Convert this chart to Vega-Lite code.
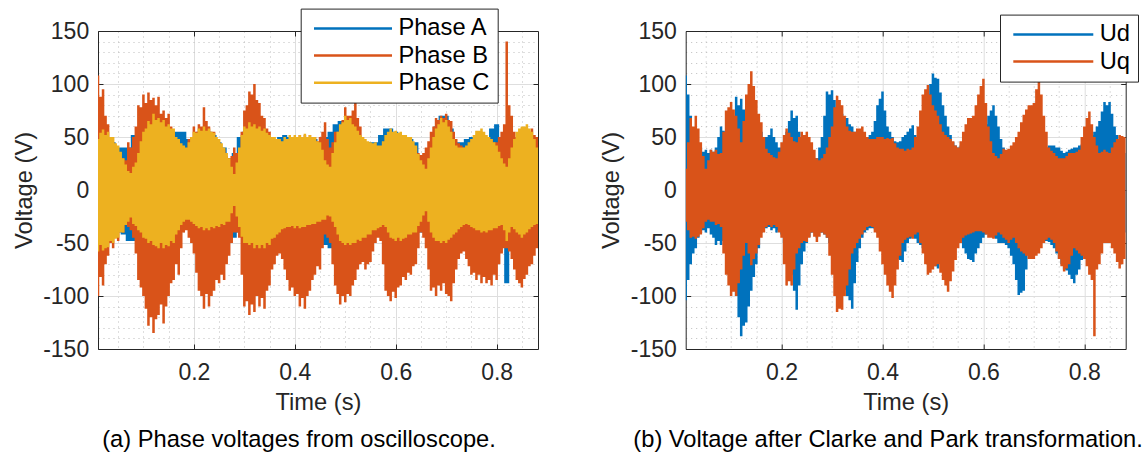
{
"$schema": "https://vega.github.io/schema/vega-lite/v6.json",
"background": "white",
"padding": {"left": 12, "top": 8, "right": 0, "bottom": 0},
"autosize": {"type": "pad"},
"config": {
  "view": {"stroke": null},
  "font": "Liberation Sans",
  "axis": {"domainColor": "#262626", "tickColor": "#262626", "labelColor": "#262626", "titleColor": "#262626", "labelFont": "Liberation Sans", "titleFont": "Liberation Sans", "labelFontSize": 23, "titleFontSize": 23.7, "titleFontWeight": "normal", "labelOverlap": false, "labelFlush": false, "labelBound": false, "tickWidth": 1, "domainWidth": 1},
  "title": {"font": "Liberation Sans", "fontSize": 23.7, "fontWeight": "normal", "color": "#000000"},
  "legend": {"labelFont": "Liberation Sans", "labelFontSize": 23.7, "labelColor": "#000000", "title": null, "symbolStrokeWidth": 2.5, "symbolSize": 324, "padding": 8, "rowPadding": 2.1, "fillColor": "#ffffff", "strokeColor": "#262626", "symbolOpacity": 1}
},
"resolve": {"scale": {"color": "independent"}, "legend": {"color": "independent"}},
"datasets": {
"phase": [
{"t":0.01,"s":"Phase A","lo":-50,"hi":45},{"t":0.02,"s":"Phase A","lo":-50,"hi":50},{"t":0.03,"s":"Phase A","lo":-50,"hi":50},{"t":0.04,"s":"Phase A","lo":-45,"hi":45},{"t":0.05,"s":"Phase A","lo":-40,"hi":40},{"t":0.06,"s":"Phase A","lo":-42,"hi":40},{"t":0.07,"s":"Phase A","lo":-48,"hi":40},{"t":0.08,"s":"Phase A","lo":-48,"hi":52},{"t":0.09,"s":"Phase A","lo":-40,"hi":58},{"t":0.10,"s":"Phase A","lo":-45,"hi":62},
{"t":0.11,"s":"Phase A","lo":-50,"hi":60},{"t":0.12,"s":"Phase A","lo":-50,"hi":60},{"t":0.13,"s":"Phase A","lo":-50,"hi":60},{"t":0.14,"s":"Phase A","lo":-50,"hi":60},{"t":0.15,"s":"Phase A","lo":-50,"hi":58},{"t":0.16,"s":"Phase A","lo":-45,"hi":55},{"t":0.17,"s":"Phase A","lo":-40,"hi":55},{"t":0.18,"s":"Phase A","lo":-35,"hi":55},{"t":0.19,"s":"Phase A","lo":-30,"hi":48},{"t":0.20,"s":"Phase A","lo":-35,"hi":50},
{"t":0.21,"s":"Phase A","lo":-40,"hi":55},{"t":0.22,"s":"Phase A","lo":-40,"hi":55},{"t":0.23,"s":"Phase A","lo":-40,"hi":55},{"t":0.24,"s":"Phase A","lo":-38,"hi":52},{"t":0.25,"s":"Phase A","lo":-35,"hi":45},{"t":0.26,"s":"Phase A","lo":-35,"hi":40},{"t":0.27,"s":"Phase A","lo":-40,"hi":30},{"t":0.28,"s":"Phase A","lo":-45,"hi":35},{"t":0.29,"s":"Phase A","lo":-40,"hi":50},{"t":0.30,"s":"Phase A","lo":-45,"hi":55},
{"t":0.31,"s":"Phase A","lo":-45,"hi":60},{"t":0.32,"s":"Phase A","lo":-45,"hi":60},{"t":0.33,"s":"Phase A","lo":-45,"hi":60},{"t":0.34,"s":"Phase A","lo":-45,"hi":55},{"t":0.35,"s":"Phase A","lo":-45,"hi":48},{"t":0.36,"s":"Phase A","lo":-45,"hi":48},{"t":0.37,"s":"Phase A","lo":-40,"hi":50},{"t":0.38,"s":"Phase A","lo":-36,"hi":52},{"t":0.39,"s":"Phase A","lo":-35,"hi":50},{"t":0.40,"s":"Phase A","lo":-35,"hi":50},
{"t":0.41,"s":"Phase A","lo":-35,"hi":50},{"t":0.42,"s":"Phase A","lo":-35,"hi":50},{"t":0.43,"s":"Phase A","lo":-35,"hi":48},{"t":0.44,"s":"Phase A","lo":-35,"hi":48},{"t":0.45,"s":"Phase A","lo":-35,"hi":45},{"t":0.46,"s":"Phase A","lo":-52,"hi":50},{"t":0.47,"s":"Phase A","lo":-55,"hi":55},{"t":0.48,"s":"Phase A","lo":-40,"hi":62},{"t":0.49,"s":"Phase A","lo":-45,"hi":65},{"t":0.50,"s":"Phase A","lo":-48,"hi":66},
{"t":0.51,"s":"Phase A","lo":-48,"hi":62},{"t":0.52,"s":"Phase A","lo":-45,"hi":55},{"t":0.53,"s":"Phase A","lo":-45,"hi":50},{"t":0.54,"s":"Phase A","lo":-42,"hi":45},{"t":0.55,"s":"Phase A","lo":-40,"hi":45},{"t":0.56,"s":"Phase A","lo":-40,"hi":45},{"t":0.57,"s":"Phase A","lo":-35,"hi":52},{"t":0.58,"s":"Phase A","lo":-35,"hi":58},{"t":0.59,"s":"Phase A","lo":-40,"hi":58},{"t":0.60,"s":"Phase A","lo":-42,"hi":55},
{"t":0.61,"s":"Phase A","lo":-42,"hi":52},{"t":0.62,"s":"Phase A","lo":-40,"hi":50},{"t":0.63,"s":"Phase A","lo":-38,"hi":48},{"t":0.64,"s":"Phase A","lo":-35,"hi":45},{"t":0.65,"s":"Phase A","lo":-40,"hi":30},{"t":0.66,"s":"Phase A","lo":-40,"hi":35},{"t":0.67,"s":"Phase A","lo":-42,"hi":45},{"t":0.68,"s":"Phase A","lo":-45,"hi":60},{"t":0.69,"s":"Phase A","lo":-45,"hi":70},{"t":0.70,"s":"Phase A","lo":-45,"hi":70},
{"t":0.71,"s":"Phase A","lo":-50,"hi":58},{"t":0.72,"s":"Phase A","lo":-42,"hi":45},{"t":0.73,"s":"Phase A","lo":-38,"hi":45},{"t":0.74,"s":"Phase A","lo":-35,"hi":48},{"t":0.75,"s":"Phase A","lo":-38,"hi":50},{"t":0.76,"s":"Phase A","lo":-40,"hi":50},{"t":0.77,"s":"Phase A","lo":-40,"hi":52},{"t":0.78,"s":"Phase A","lo":-40,"hi":50},{"t":0.79,"s":"Phase A","lo":-40,"hi":58},{"t":0.80,"s":"Phase A","lo":-40,"hi":62},
{"t":0.81,"s":"Phase A","lo":-45,"hi":45},{"t":0.82,"s":"Phase A","lo":-88,"hi":35},{"t":0.83,"s":"Phase A","lo":-40,"hi":45},{"t":0.84,"s":"Phase A","lo":-40,"hi":50},{"t":0.85,"s":"Phase A","lo":-40,"hi":55},{"t":0.86,"s":"Phase A","lo":-40,"hi":55},{"t":0.87,"s":"Phase A","lo":-40,"hi":50},{"t":0.88,"s":"Phase A","lo":-38,"hi":45},{"t":0.882,"s":"Phase A","lo":-38,"hi":45},
{"t":0.01,"s":"Phase B","lo":-100,"hi":108},{"t":0.02,"s":"Phase B","lo":-90,"hi":95},{"t":0.03,"s":"Phase B","lo":-62,"hi":62},{"t":0.04,"s":"Phase B","lo":-55,"hi":45},{"t":0.05,"s":"Phase B","lo":-48,"hi":35},{"t":0.06,"s":"Phase B","lo":-40,"hi":30},{"t":0.07,"s":"Phase B","lo":-35,"hi":45},{"t":0.08,"s":"Phase B","lo":-45,"hi":50},{"t":0.09,"s":"Phase B","lo":-85,"hi":80},{"t":0.10,"s":"Phase B","lo":-100,"hi":90},
{"t":0.11,"s":"Phase B","lo":-128,"hi":92},{"t":0.12,"s":"Phase B","lo":-135,"hi":87},{"t":0.13,"s":"Phase B","lo":-118,"hi":88},{"t":0.14,"s":"Phase B","lo":-126,"hi":75},{"t":0.15,"s":"Phase B","lo":-100,"hi":72},{"t":0.16,"s":"Phase B","lo":-85,"hi":55},{"t":0.17,"s":"Phase B","lo":-80,"hi":45},{"t":0.18,"s":"Phase B","lo":-40,"hi":40},{"t":0.19,"s":"Phase B","lo":-45,"hi":48},{"t":0.20,"s":"Phase B","lo":-60,"hi":60},
{"t":0.21,"s":"Phase B","lo":-95,"hi":62},{"t":0.22,"s":"Phase B","lo":-112,"hi":78},{"t":0.23,"s":"Phase B","lo":-110,"hi":60},{"t":0.24,"s":"Phase B","lo":-95,"hi":55},{"t":0.25,"s":"Phase B","lo":-88,"hi":45},{"t":0.26,"s":"Phase B","lo":-85,"hi":38},{"t":0.27,"s":"Phase B","lo":-62,"hi":30},{"t":0.28,"s":"Phase B","lo":-40,"hi":40},{"t":0.29,"s":"Phase B","lo":-45,"hi":35},{"t":0.30,"s":"Phase B","lo":-110,"hi":75},
{"t":0.31,"s":"Phase B","lo":-118,"hi":93},{"t":0.32,"s":"Phase B","lo":-115,"hi":100},{"t":0.33,"s":"Phase B","lo":-110,"hi":82},{"t":0.34,"s":"Phase B","lo":-112,"hi":68},{"t":0.35,"s":"Phase B","lo":-90,"hi":55},{"t":0.36,"s":"Phase B","lo":-70,"hi":48},{"t":0.37,"s":"Phase B","lo":-60,"hi":46},{"t":0.38,"s":"Phase B","lo":-75,"hi":45},{"t":0.39,"s":"Phase B","lo":-95,"hi":48},{"t":0.40,"s":"Phase B","lo":-100,"hi":50},
{"t":0.41,"s":"Phase B","lo":-110,"hi":52},{"t":0.42,"s":"Phase B","lo":-112,"hi":52},{"t":0.43,"s":"Phase B","lo":-95,"hi":52},{"t":0.44,"s":"Phase B","lo":-80,"hi":50},{"t":0.45,"s":"Phase B","lo":-75,"hi":50},{"t":0.46,"s":"Phase B","lo":-42,"hi":64},{"t":0.47,"s":"Phase B","lo":-50,"hi":40},{"t":0.48,"s":"Phase B","lo":-90,"hi":55},{"t":0.49,"s":"Phase B","lo":-108,"hi":60},{"t":0.50,"s":"Phase B","lo":-106,"hi":78},
{"t":0.51,"s":"Phase B","lo":-100,"hi":70},{"t":0.52,"s":"Phase B","lo":-85,"hi":84},{"t":0.53,"s":"Phase B","lo":-70,"hi":60},{"t":0.54,"s":"Phase B","lo":-75,"hi":45},{"t":0.55,"s":"Phase B","lo":-68,"hi":42},{"t":0.56,"s":"Phase B","lo":-50,"hi":40},{"t":0.57,"s":"Phase B","lo":-48,"hi":35},{"t":0.58,"s":"Phase B","lo":-95,"hi":45},{"t":0.59,"s":"Phase B","lo":-105,"hi":55},{"t":0.60,"s":"Phase B","lo":-102,"hi":55},
{"t":0.61,"s":"Phase B","lo":-90,"hi":52},{"t":0.62,"s":"Phase B","lo":-85,"hi":50},{"t":0.63,"s":"Phase B","lo":-80,"hi":48},{"t":0.64,"s":"Phase B","lo":-70,"hi":40},{"t":0.65,"s":"Phase B","lo":-40,"hi":33},{"t":0.66,"s":"Phase B","lo":-55,"hi":40},{"t":0.67,"s":"Phase B","lo":-95,"hi":55},{"t":0.68,"s":"Phase B","lo":-100,"hi":68},{"t":0.69,"s":"Phase B","lo":-95,"hi":70},{"t":0.70,"s":"Phase B","lo":-98,"hi":72},
{"t":0.71,"s":"Phase B","lo":-105,"hi":65},{"t":0.72,"s":"Phase B","lo":-75,"hi":48},{"t":0.73,"s":"Phase B","lo":-60,"hi":42},{"t":0.74,"s":"Phase B","lo":-65,"hi":40},{"t":0.75,"s":"Phase B","lo":-80,"hi":45},{"t":0.76,"s":"Phase B","lo":-85,"hi":50},{"t":0.77,"s":"Phase B","lo":-88,"hi":55},{"t":0.78,"s":"Phase B","lo":-88,"hi":50},{"t":0.79,"s":"Phase B","lo":-90,"hi":48},{"t":0.80,"s":"Phase B","lo":-85,"hi":45},
{"t":0.81,"s":"Phase B","lo":-60,"hi":55},{"t":0.82,"s":"Phase B","lo":-55,"hi":140},{"t":0.83,"s":"Phase B","lo":-65,"hi":70},{"t":0.84,"s":"Phase B","lo":-85,"hi":50},{"t":0.85,"s":"Phase B","lo":-92,"hi":52},{"t":0.86,"s":"Phase B","lo":-80,"hi":58},{"t":0.87,"s":"Phase B","lo":-70,"hi":58},{"t":0.88,"s":"Phase B","lo":-55,"hi":50},{"t":0.882,"s":"Phase B","lo":-55,"hi":50},
{"t":0.015,"s":"Phase B","lo":-82,"hi":88},{"t":0.025,"s":"Phase B","lo":-70,"hi":70},{"t":0.035,"s":"Phase B","lo":-50,"hi":50},{"t":0.045,"s":"Phase B","lo":-45,"hi":38},{"t":0.055,"s":"Phase B","lo":-38,"hi":28},{"t":0.065,"s":"Phase B","lo":-33,"hi":28},{"t":0.075,"s":"Phase B","lo":-38,"hi":40},{"t":0.085,"s":"Phase B","lo":-60,"hi":60},{"t":0.095,"s":"Phase B","lo":-92,"hi":78},{"t":0.105,"s":"Phase B","lo":-112,"hi":82},
{"t":0.115,"s":"Phase B","lo":-120,"hi":85},{"t":0.125,"s":"Phase B","lo":-122,"hi":80},{"t":0.135,"s":"Phase B","lo":-108,"hi":72},{"t":0.145,"s":"Phase B","lo":-110,"hi":68},{"t":0.155,"s":"Phase B","lo":-88,"hi":60},{"t":0.165,"s":"Phase B","lo":-70,"hi":48},{"t":0.175,"s":"Phase B","lo":-55,"hi":40},{"t":0.185,"s":"Phase B","lo":-38,"hi":38},{"t":0.195,"s":"Phase B","lo":-50,"hi":50},{"t":0.205,"s":"Phase B","lo":-78,"hi":55},
{"t":0.215,"s":"Phase B","lo":-100,"hi":60},{"t":0.225,"s":"Phase B","lo":-98,"hi":65},{"t":0.235,"s":"Phase B","lo":-100,"hi":55},{"t":0.245,"s":"Phase B","lo":-85,"hi":48},{"t":0.255,"s":"Phase B","lo":-80,"hi":40},{"t":0.265,"s":"Phase B","lo":-70,"hi":32},{"t":0.275,"s":"Phase B","lo":-50,"hi":32},{"t":0.285,"s":"Phase B","lo":-40,"hi":35},{"t":0.295,"s":"Phase B","lo":-80,"hi":55},{"t":0.305,"s":"Phase B","lo":-105,"hi":80},
{"t":0.315,"s":"Phase B","lo":-108,"hi":90},{"t":0.325,"s":"Phase B","lo":-100,"hi":85},{"t":0.335,"s":"Phase B","lo":-102,"hi":70},{"t":0.345,"s":"Phase B","lo":-95,"hi":58},{"t":0.355,"s":"Phase B","lo":-75,"hi":50},{"t":0.365,"s":"Phase B","lo":-62,"hi":44},{"t":0.375,"s":"Phase B","lo":-65,"hi":42},{"t":0.385,"s":"Phase B","lo":-85,"hi":44},{"t":0.395,"s":"Phase B","lo":-92,"hi":46},{"t":0.405,"s":"Phase B","lo":-98,"hi":48},
{"t":0.415,"s":"Phase B","lo":-102,"hi":50},{"t":0.425,"s":"Phase B","lo":-100,"hi":50},{"t":0.435,"s":"Phase B","lo":-85,"hi":48},{"t":0.445,"s":"Phase B","lo":-72,"hi":46},{"t":0.455,"s":"Phase B","lo":-55,"hi":55},{"t":0.465,"s":"Phase B","lo":-45,"hi":48},{"t":0.475,"s":"Phase B","lo":-70,"hi":45},{"t":0.485,"s":"Phase B","lo":-98,"hi":55},{"t":0.495,"s":"Phase B","lo":-100,"hi":66},{"t":0.505,"s":"Phase B","lo":-98,"hi":70},
{"t":0.515,"s":"Phase B","lo":-90,"hi":75},{"t":0.525,"s":"Phase B","lo":-75,"hi":68},{"t":0.535,"s":"Phase B","lo":-68,"hi":50},{"t":0.545,"s":"Phase B","lo":-70,"hi":42},{"t":0.555,"s":"Phase B","lo":-58,"hi":40},{"t":0.565,"s":"Phase B","lo":-45,"hi":36},{"t":0.575,"s":"Phase B","lo":-70,"hi":40},{"t":0.585,"s":"Phase B","lo":-100,"hi":50},{"t":0.595,"s":"Phase B","lo":-96,"hi":52},{"t":0.605,"s":"Phase B","lo":-92,"hi":50},
{"t":0.615,"s":"Phase B","lo":-82,"hi":48},{"t":0.625,"s":"Phase B","lo":-78,"hi":46},{"t":0.635,"s":"Phase B","lo":-72,"hi":42},{"t":0.645,"s":"Phase B","lo":-55,"hi":35},{"t":0.655,"s":"Phase B","lo":-45,"hi":35},{"t":0.665,"s":"Phase B","lo":-75,"hi":46},{"t":0.675,"s":"Phase B","lo":-92,"hi":60},{"t":0.685,"s":"Phase B","lo":-90,"hi":66},{"t":0.695,"s":"Phase B","lo":-88,"hi":68},{"t":0.705,"s":"Phase B","lo":-100,"hi":66},
{"t":0.715,"s":"Phase B","lo":-88,"hi":55},{"t":0.725,"s":"Phase B","lo":-65,"hi":44},{"t":0.735,"s":"Phase B","lo":-58,"hi":40},{"t":0.745,"s":"Phase B","lo":-72,"hi":42},{"t":0.755,"s":"Phase B","lo":-78,"hi":46},{"t":0.765,"s":"Phase B","lo":-80,"hi":52},{"t":0.775,"s":"Phase B","lo":-82,"hi":50},{"t":0.785,"s":"Phase B","lo":-85,"hi":48},{"t":0.795,"s":"Phase B","lo":-80,"hi":45},{"t":0.805,"s":"Phase B","lo":-70,"hi":50},
{"t":0.815,"s":"Phase B","lo":-55,"hi":62},{"t":0.825,"s":"Phase B","lo":-58,"hi":80},{"t":0.835,"s":"Phase B","lo":-75,"hi":55},{"t":0.845,"s":"Phase B","lo":-88,"hi":48},{"t":0.855,"s":"Phase B","lo":-84,"hi":54},{"t":0.865,"s":"Phase B","lo":-72,"hi":55},{"t":0.875,"s":"Phase B","lo":-62,"hi":52},
{"t":0.01,"s":"Phase C","lo":-58,"hi":48},{"t":0.02,"s":"Phase C","lo":-57,"hi":57},{"t":0.03,"s":"Phase C","lo":-54,"hi":55},{"t":0.04,"s":"Phase C","lo":-50,"hi":50},{"t":0.05,"s":"Phase C","lo":-45,"hi":42},{"t":0.06,"s":"Phase C","lo":-40,"hi":30},{"t":0.07,"s":"Phase C","lo":-30,"hi":18},{"t":0.08,"s":"Phase C","lo":-32,"hi":22},{"t":0.09,"s":"Phase C","lo":-38,"hi":35},{"t":0.10,"s":"Phase C","lo":-45,"hi":55},
{"t":0.11,"s":"Phase C","lo":-50,"hi":65},{"t":0.12,"s":"Phase C","lo":-52,"hi":72},{"t":0.13,"s":"Phase C","lo":-55,"hi":68},{"t":0.14,"s":"Phase C","lo":-55,"hi":66},{"t":0.15,"s":"Phase C","lo":-53,"hi":62},{"t":0.16,"s":"Phase C","lo":-50,"hi":58},{"t":0.17,"s":"Phase C","lo":-38,"hi":48},{"t":0.18,"s":"Phase C","lo":-30,"hi":42},{"t":0.19,"s":"Phase C","lo":-28,"hi":45},{"t":0.20,"s":"Phase C","lo":-32,"hi":55},
{"t":0.21,"s":"Phase C","lo":-36,"hi":58},{"t":0.22,"s":"Phase C","lo":-38,"hi":60},{"t":0.23,"s":"Phase C","lo":-38,"hi":58},{"t":0.24,"s":"Phase C","lo":-36,"hi":54},{"t":0.25,"s":"Phase C","lo":-35,"hi":48},{"t":0.26,"s":"Phase C","lo":-33,"hi":40},{"t":0.27,"s":"Phase C","lo":-30,"hi":30},{"t":0.28,"s":"Phase C","lo":-15,"hi":15},{"t":0.29,"s":"Phase C","lo":-35,"hi":40},{"t":0.30,"s":"Phase C","lo":-50,"hi":60},
{"t":0.31,"s":"Phase C","lo":-52,"hi":64},{"t":0.32,"s":"Phase C","lo":-55,"hi":62},{"t":0.33,"s":"Phase C","lo":-55,"hi":60},{"t":0.34,"s":"Phase C","lo":-55,"hi":58},{"t":0.35,"s":"Phase C","lo":-52,"hi":52},{"t":0.36,"s":"Phase C","lo":-45,"hi":50},{"t":0.37,"s":"Phase C","lo":-40,"hi":48},{"t":0.38,"s":"Phase C","lo":-36,"hi":50},{"t":0.39,"s":"Phase C","lo":-35,"hi":52},{"t":0.40,"s":"Phase C","lo":-36,"hi":52},
{"t":0.41,"s":"Phase C","lo":-36,"hi":52},{"t":0.42,"s":"Phase C","lo":-35,"hi":53},{"t":0.43,"s":"Phase C","lo":-33,"hi":52},{"t":0.44,"s":"Phase C","lo":-32,"hi":50},{"t":0.45,"s":"Phase C","lo":-30,"hi":45},{"t":0.46,"s":"Phase C","lo":-28,"hi":28},{"t":0.47,"s":"Phase C","lo":-25,"hi":22},{"t":0.48,"s":"Phase C","lo":-35,"hi":45},{"t":0.49,"s":"Phase C","lo":-48,"hi":62},{"t":0.50,"s":"Phase C","lo":-52,"hi":70},
{"t":0.51,"s":"Phase C","lo":-52,"hi":68},{"t":0.52,"s":"Phase C","lo":-50,"hi":60},{"t":0.53,"s":"Phase C","lo":-48,"hi":52},{"t":0.54,"s":"Phase C","lo":-45,"hi":48},{"t":0.55,"s":"Phase C","lo":-42,"hi":45},{"t":0.56,"s":"Phase C","lo":-38,"hi":45},{"t":0.57,"s":"Phase C","lo":-35,"hi":42},{"t":0.58,"s":"Phase C","lo":-35,"hi":52},{"t":0.59,"s":"Phase C","lo":-45,"hi":58},{"t":0.60,"s":"Phase C","lo":-48,"hi":56},
{"t":0.61,"s":"Phase C","lo":-48,"hi":55},{"t":0.62,"s":"Phase C","lo":-45,"hi":52},{"t":0.63,"s":"Phase C","lo":-42,"hi":50},{"t":0.64,"s":"Phase C","lo":-40,"hi":42},{"t":0.65,"s":"Phase C","lo":-30,"hi":28},{"t":0.66,"s":"Phase C","lo":-20,"hi":20},{"t":0.67,"s":"Phase C","lo":-40,"hi":40},{"t":0.68,"s":"Phase C","lo":-48,"hi":58},{"t":0.69,"s":"Phase C","lo":-50,"hi":68},{"t":0.70,"s":"Phase C","lo":-50,"hi":66},
{"t":0.71,"s":"Phase C","lo":-45,"hi":55},{"t":0.72,"s":"Phase C","lo":-40,"hi":42},{"t":0.73,"s":"Phase C","lo":-35,"hi":40},{"t":0.74,"s":"Phase C","lo":-32,"hi":42},{"t":0.75,"s":"Phase C","lo":-35,"hi":48},{"t":0.76,"s":"Phase C","lo":-38,"hi":56},{"t":0.77,"s":"Phase C","lo":-40,"hi":58},{"t":0.78,"s":"Phase C","lo":-40,"hi":52},{"t":0.79,"s":"Phase C","lo":-38,"hi":48},{"t":0.80,"s":"Phase C","lo":-36,"hi":42},
{"t":0.81,"s":"Phase C","lo":-33,"hi":30},{"t":0.82,"s":"Phase C","lo":-48,"hi":22},{"t":0.83,"s":"Phase C","lo":-35,"hi":40},{"t":0.84,"s":"Phase C","lo":-40,"hi":55},{"t":0.85,"s":"Phase C","lo":-45,"hi":60},{"t":0.86,"s":"Phase C","lo":-40,"hi":62},{"t":0.87,"s":"Phase C","lo":-35,"hi":55},{"t":0.88,"s":"Phase C","lo":-32,"hi":40},{"t":0.882,"s":"Phase C","lo":-32,"hi":40},
{"t":0.015,"s":"Phase C","lo":-52,"hi":54},{"t":0.025,"s":"Phase C","lo":-55,"hi":52},{"t":0.035,"s":"Phase C","lo":-48,"hi":50},{"t":0.045,"s":"Phase C","lo":-46,"hi":44},{"t":0.055,"s":"Phase C","lo":-40,"hi":36},{"t":0.065,"s":"Phase C","lo":-33,"hi":24},{"t":0.075,"s":"Phase C","lo":-26,"hi":16},{"t":0.085,"s":"Phase C","lo":-34,"hi":26},{"t":0.095,"s":"Phase C","lo":-40,"hi":46},{"t":0.105,"s":"Phase C","lo":-46,"hi":58},
{"t":0.115,"s":"Phase C","lo":-48,"hi":62},{"t":0.125,"s":"Phase C","lo":-53,"hi":66},{"t":0.135,"s":"Phase C","lo":-50,"hi":64},{"t":0.145,"s":"Phase C","lo":-52,"hi":60},{"t":0.155,"s":"Phase C","lo":-48,"hi":58},{"t":0.165,"s":"Phase C","lo":-42,"hi":50},{"t":0.175,"s":"Phase C","lo":-33,"hi":44},{"t":0.185,"s":"Phase C","lo":-28,"hi":40},{"t":0.195,"s":"Phase C","lo":-30,"hi":50},{"t":0.205,"s":"Phase C","lo":-34,"hi":54},
{"t":0.215,"s":"Phase C","lo":-35,"hi":56},{"t":0.225,"s":"Phase C","lo":-36,"hi":56},{"t":0.235,"s":"Phase C","lo":-35,"hi":55},{"t":0.245,"s":"Phase C","lo":-34,"hi":50},{"t":0.255,"s":"Phase C","lo":-32,"hi":44},{"t":0.265,"s":"Phase C","lo":-30,"hi":35},{"t":0.275,"s":"Phase C","lo":-22,"hi":22},{"t":0.285,"s":"Phase C","lo":-25,"hi":26},{"t":0.295,"s":"Phase C","lo":-44,"hi":52},{"t":0.305,"s":"Phase C","lo":-50,"hi":58},
{"t":0.315,"s":"Phase C","lo":-50,"hi":60},{"t":0.325,"s":"Phase C","lo":-52,"hi":58},{"t":0.335,"s":"Phase C","lo":-52,"hi":56},{"t":0.345,"s":"Phase C","lo":-50,"hi":54},{"t":0.355,"s":"Phase C","lo":-46,"hi":50},{"t":0.365,"s":"Phase C","lo":-42,"hi":48},{"t":0.375,"s":"Phase C","lo":-37,"hi":46},{"t":0.385,"s":"Phase C","lo":-35,"hi":48},{"t":0.395,"s":"Phase C","lo":-34,"hi":50},{"t":0.405,"s":"Phase C","lo":-34,"hi":50},
{"t":0.415,"s":"Phase C","lo":-35,"hi":50},{"t":0.425,"s":"Phase C","lo":-33,"hi":50},{"t":0.435,"s":"Phase C","lo":-32,"hi":50},{"t":0.445,"s":"Phase C","lo":-30,"hi":46},{"t":0.455,"s":"Phase C","lo":-28,"hi":38},{"t":0.465,"s":"Phase C","lo":-24,"hi":24},{"t":0.475,"s":"Phase C","lo":-30,"hi":35},{"t":0.485,"s":"Phase C","lo":-42,"hi":55},{"t":0.495,"s":"Phase C","lo":-50,"hi":64},{"t":0.505,"s":"Phase C","lo":-50,"hi":66},
{"t":0.515,"s":"Phase C","lo":-50,"hi":62},{"t":0.525,"s":"Phase C","lo":-47,"hi":56},{"t":0.535,"s":"Phase C","lo":-45,"hi":50},{"t":0.545,"s":"Phase C","lo":-42,"hi":46},{"t":0.555,"s":"Phase C","lo":-38,"hi":44},{"t":0.565,"s":"Phase C","lo":-36,"hi":42},{"t":0.575,"s":"Phase C","lo":-33,"hi":46},{"t":0.585,"s":"Phase C","lo":-40,"hi":55},{"t":0.595,"s":"Phase C","lo":-46,"hi":55},{"t":0.605,"s":"Phase C","lo":-45,"hi":54},
{"t":0.615,"s":"Phase C","lo":-46,"hi":52},{"t":0.625,"s":"Phase C","lo":-42,"hi":50},{"t":0.635,"s":"Phase C","lo":-40,"hi":46},{"t":0.645,"s":"Phase C","lo":-34,"hi":34},{"t":0.655,"s":"Phase C","lo":-24,"hi":24},{"t":0.665,"s":"Phase C","lo":-30,"hi":30},{"t":0.675,"s":"Phase C","lo":-45,"hi":50},{"t":0.685,"s":"Phase C","lo":-48,"hi":62},{"t":0.695,"s":"Phase C","lo":-48,"hi":64},{"t":0.705,"s":"Phase C","lo":-47,"hi":60},
{"t":0.715,"s":"Phase C","lo":-42,"hi":48},{"t":0.725,"s":"Phase C","lo":-37,"hi":40},{"t":0.735,"s":"Phase C","lo":-33,"hi":40},{"t":0.745,"s":"Phase C","lo":-33,"hi":45},{"t":0.755,"s":"Phase C","lo":-36,"hi":52},{"t":0.765,"s":"Phase C","lo":-38,"hi":56},{"t":0.775,"s":"Phase C","lo":-39,"hi":55},{"t":0.785,"s":"Phase C","lo":-38,"hi":50},{"t":0.795,"s":"Phase C","lo":-36,"hi":45},{"t":0.805,"s":"Phase C","lo":-34,"hi":36},
{"t":0.815,"s":"Phase C","lo":-38,"hi":25},{"t":0.825,"s":"Phase C","lo":-40,"hi":30},{"t":0.835,"s":"Phase C","lo":-37,"hi":48},{"t":0.845,"s":"Phase C","lo":-42,"hi":58},{"t":0.855,"s":"Phase C","lo":-42,"hi":60},{"t":0.865,"s":"Phase C","lo":-37,"hi":58},{"t":0.875,"s":"Phase C","lo":-33,"hi":48}
],
"dq": [
{"t":0.01,"s":"Ud","lo":-104,"hi":108},{"t":0.02,"s":"Ud","lo":-70,"hi":70},{"t":0.03,"s":"Ud","lo":-55,"hi":45},{"t":0.04,"s":"Ud","lo":-40,"hi":40},{"t":0.05,"s":"Ud","lo":-40,"hi":38},{"t":0.06,"s":"Ud","lo":-42,"hi":38},{"t":0.07,"s":"Ud","lo":-52,"hi":40},{"t":0.08,"s":"Ud","lo":-52,"hi":60},{"t":0.09,"s":"Ud","lo":-50,"hi":55},{"t":0.10,"s":"Ud","lo":-60,"hi":50},
{"t":0.11,"s":"Ud","lo":-100,"hi":88},{"t":0.12,"s":"Ud","lo":-138,"hi":86},{"t":0.13,"s":"Ud","lo":-125,"hi":70},{"t":0.14,"s":"Ud","lo":-95,"hi":60},{"t":0.15,"s":"Ud","lo":-70,"hi":61},{"t":0.16,"s":"Ud","lo":-40,"hi":55},{"t":0.17,"s":"Ud","lo":-36,"hi":50},{"t":0.18,"s":"Ud","lo":-38,"hi":58},{"t":0.19,"s":"Ud","lo":-40,"hi":45},{"t":0.20,"s":"Ud","lo":-42,"hi":40},
{"t":0.21,"s":"Ud","lo":-60,"hi":55},{"t":0.22,"s":"Ud","lo":-80,"hi":75},{"t":0.23,"s":"Ud","lo":-113,"hi":70},{"t":0.24,"s":"Ud","lo":-70,"hi":45},{"t":0.25,"s":"Ud","lo":-50,"hi":35},{"t":0.26,"s":"Ud","lo":-40,"hi":32},{"t":0.27,"s":"Ud","lo":-45,"hi":30},{"t":0.28,"s":"Ud","lo":-40,"hi":50},{"t":0.29,"s":"Ud","lo":-45,"hi":93},{"t":0.30,"s":"Ud","lo":-60,"hi":94},
{"t":0.31,"s":"Ud","lo":-80,"hi":75},{"t":0.32,"s":"Ud","lo":-90,"hi":72},{"t":0.33,"s":"Ud","lo":-100,"hi":68},{"t":0.34,"s":"Ud","lo":-112,"hi":60},{"t":0.35,"s":"Ud","lo":-68,"hi":50},{"t":0.36,"s":"Ud","lo":-45,"hi":45},{"t":0.37,"s":"Ud","lo":-38,"hi":50},{"t":0.38,"s":"Ud","lo":-36,"hi":55},{"t":0.39,"s":"Ud","lo":-40,"hi":80},{"t":0.40,"s":"Ud","lo":-50,"hi":93},
{"t":0.41,"s":"Ud","lo":-65,"hi":60},{"t":0.42,"s":"Ud","lo":-60,"hi":50},{"t":0.43,"s":"Ud","lo":-65,"hi":45},{"t":0.44,"s":"Ud","lo":-68,"hi":50},{"t":0.45,"s":"Ud","lo":-50,"hi":55},{"t":0.46,"s":"Ud","lo":-45,"hi":61},{"t":0.47,"s":"Ud","lo":-50,"hi":45},{"t":0.48,"s":"Ud","lo":-55,"hi":60},{"t":0.49,"s":"Ud","lo":-60,"hi":90},{"t":0.50,"s":"Ud","lo":-70,"hi":110},
{"t":0.51,"s":"Ud","lo":-74,"hi":105},{"t":0.52,"s":"Ud","lo":-60,"hi":80},{"t":0.53,"s":"Ud","lo":-55,"hi":60},{"t":0.54,"s":"Ud","lo":-50,"hi":45},{"t":0.55,"s":"Ud","lo":-45,"hi":40},{"t":0.56,"s":"Ud","lo":-55,"hi":45},{"t":0.57,"s":"Ud","lo":-65,"hi":42},{"t":0.58,"s":"Ud","lo":-68,"hi":50},{"t":0.59,"s":"Ud","lo":-55,"hi":60},{"t":0.60,"s":"Ud","lo":-45,"hi":55},
{"t":0.61,"s":"Ud","lo":-40,"hi":70},{"t":0.62,"s":"Ud","lo":-45,"hi":80},{"t":0.63,"s":"Ud","lo":-50,"hi":60},{"t":0.64,"s":"Ud","lo":-50,"hi":40},{"t":0.65,"s":"Ud","lo":-55,"hi":35},{"t":0.66,"s":"Ud","lo":-70,"hi":35},{"t":0.67,"s":"Ud","lo":-99,"hi":40},{"t":0.68,"s":"Ud","lo":-95,"hi":40},{"t":0.69,"s":"Ud","lo":-60,"hi":45},{"t":0.70,"s":"Ud","lo":-50,"hi":50},
{"t":0.71,"s":"Ud","lo":-45,"hi":45},{"t":0.72,"s":"Ud","lo":-48,"hi":40},{"t":0.73,"s":"Ud","lo":-49,"hi":42},{"t":0.74,"s":"Ud","lo":-55,"hi":42},{"t":0.75,"s":"Ud","lo":-65,"hi":40},{"t":0.76,"s":"Ud","lo":-75,"hi":35},{"t":0.77,"s":"Ud","lo":-80,"hi":38},{"t":0.78,"s":"Ud","lo":-88,"hi":40},{"t":0.79,"s":"Ud","lo":-75,"hi":42},{"t":0.80,"s":"Ud","lo":-60,"hi":45},
{"t":0.81,"s":"Ud","lo":-55,"hi":50},{"t":0.82,"s":"Ud","lo":-50,"hi":55},{"t":0.83,"s":"Ud","lo":-50,"hi":65},{"t":0.84,"s":"Ud","lo":-50,"hi":83},{"t":0.85,"s":"Ud","lo":-48,"hi":83},{"t":0.86,"s":"Ud","lo":-45,"hi":60},{"t":0.87,"s":"Ud","lo":-40,"hi":45},{"t":0.88,"s":"Ud","lo":-40,"hi":35},{"t":0.882,"s":"Ud","lo":-40,"hi":35},
{"t":0.015,"s":"Ud","lo":-85,"hi":90},{"t":0.025,"s":"Ud","lo":-60,"hi":55},{"t":0.035,"s":"Ud","lo":-45,"hi":42},{"t":0.045,"s":"Ud","lo":-38,"hi":36},{"t":0.055,"s":"Ud","lo":-36,"hi":35},{"t":0.065,"s":"Ud","lo":-45,"hi":36},{"t":0.075,"s":"Ud","lo":-48,"hi":50},{"t":0.085,"s":"Ud","lo":-48,"hi":56},{"t":0.095,"s":"Ud","lo":-52,"hi":48},{"t":0.105,"s":"Ud","lo":-80,"hi":70},
{"t":0.115,"s":"Ud","lo":-120,"hi":80},{"t":0.125,"s":"Ud","lo":-128,"hi":76},{"t":0.135,"s":"Ud","lo":-110,"hi":64},{"t":0.145,"s":"Ud","lo":-82,"hi":56},{"t":0.155,"s":"Ud","lo":-55,"hi":56},{"t":0.165,"s":"Ud","lo":-36,"hi":50},{"t":0.175,"s":"Ud","lo":-35,"hi":52},{"t":0.185,"s":"Ud","lo":-36,"hi":50},{"t":0.195,"s":"Ud","lo":-38,"hi":40},{"t":0.205,"s":"Ud","lo":-50,"hi":46},
{"t":0.215,"s":"Ud","lo":-70,"hi":65},{"t":0.225,"s":"Ud","lo":-95,"hi":68},{"t":0.235,"s":"Ud","lo":-90,"hi":55},{"t":0.245,"s":"Ud","lo":-58,"hi":40},{"t":0.255,"s":"Ud","lo":-44,"hi":33},{"t":0.265,"s":"Ud","lo":-40,"hi":30},{"t":0.275,"s":"Ud","lo":-40,"hi":40},{"t":0.285,"s":"Ud","lo":-42,"hi":70},{"t":0.295,"s":"Ud","lo":-50,"hi":90},{"t":0.305,"s":"Ud","lo":-70,"hi":85},
{"t":0.315,"s":"Ud","lo":-84,"hi":70},{"t":0.325,"s":"Ud","lo":-94,"hi":68},{"t":0.335,"s":"Ud","lo":-104,"hi":62},{"t":0.345,"s":"Ud","lo":-88,"hi":55},{"t":0.355,"s":"Ud","lo":-55,"hi":46},{"t":0.365,"s":"Ud","lo":-40,"hi":45},{"t":0.375,"s":"Ud","lo":-36,"hi":52},{"t":0.385,"s":"Ud","lo":-37,"hi":65},{"t":0.395,"s":"Ud","lo":-44,"hi":86},{"t":0.405,"s":"Ud","lo":-56,"hi":75},
{"t":0.415,"s":"Ud","lo":-60,"hi":55},{"t":0.425,"s":"Ud","lo":-60,"hi":46},{"t":0.435,"s":"Ud","lo":-66,"hi":46},{"t":0.445,"s":"Ud","lo":-58,"hi":52},{"t":0.455,"s":"Ud","lo":-46,"hi":58},{"t":0.465,"s":"Ud","lo":-46,"hi":52},{"t":0.475,"s":"Ud","lo":-52,"hi":52},{"t":0.485,"s":"Ud","lo":-56,"hi":75},{"t":0.495,"s":"Ud","lo":-65,"hi":100},{"t":0.505,"s":"Ud","lo":-72,"hi":106},
{"t":0.515,"s":"Ud","lo":-66,"hi":92},{"t":0.525,"s":"Ud","lo":-56,"hi":70},{"t":0.535,"s":"Ud","lo":-52,"hi":52},{"t":0.545,"s":"Ud","lo":-46,"hi":42},{"t":0.555,"s":"Ud","lo":-48,"hi":42},{"t":0.565,"s":"Ud","lo":-60,"hi":43},{"t":0.575,"s":"Ud","lo":-66,"hi":45},{"t":0.585,"s":"Ud","lo":-60,"hi":55},{"t":0.595,"s":"Ud","lo":-50,"hi":56},{"t":0.605,"s":"Ud","lo":-42,"hi":62},
{"t":0.615,"s":"Ud","lo":-42,"hi":75},{"t":0.625,"s":"Ud","lo":-46,"hi":70},{"t":0.635,"s":"Ud","lo":-50,"hi":48},{"t":0.645,"s":"Ud","lo":-52,"hi":37},{"t":0.655,"s":"Ud","lo":-62,"hi":34},{"t":0.665,"s":"Ud","lo":-85,"hi":38},{"t":0.675,"s":"Ud","lo":-97,"hi":40},{"t":0.685,"s":"Ud","lo":-75,"hi":42},{"t":0.695,"s":"Ud","lo":-54,"hi":47},{"t":0.705,"s":"Ud","lo":-47,"hi":47},
{"t":0.715,"s":"Ud","lo":-46,"hi":42},{"t":0.725,"s":"Ud","lo":-48,"hi":40},{"t":0.735,"s":"Ud","lo":-52,"hi":42},{"t":0.745,"s":"Ud","lo":-60,"hi":40},{"t":0.755,"s":"Ud","lo":-70,"hi":37},{"t":0.765,"s":"Ud","lo":-76,"hi":36},{"t":0.775,"s":"Ud","lo":-84,"hi":39},{"t":0.785,"s":"Ud","lo":-80,"hi":40},{"t":0.795,"s":"Ud","lo":-66,"hi":43},{"t":0.805,"s":"Ud","lo":-56,"hi":46},
{"t":0.815,"s":"Ud","lo":-52,"hi":52},{"t":0.825,"s":"Ud","lo":-50,"hi":60},{"t":0.835,"s":"Ud","lo":-50,"hi":74},{"t":0.845,"s":"Ud","lo":-48,"hi":80},{"t":0.855,"s":"Ud","lo":-46,"hi":72},{"t":0.865,"s":"Ud","lo":-42,"hi":52},{"t":0.875,"s":"Ud","lo":-40,"hi":40},
{"t":0.01,"s":"Uq","lo":-30,"hi":20},{"t":0.02,"s":"Uq","lo":-45,"hi":68},{"t":0.03,"s":"Uq","lo":-46,"hi":70},{"t":0.04,"s":"Uq","lo":-42,"hi":45},{"t":0.05,"s":"Uq","lo":-30,"hi":20},{"t":0.06,"s":"Uq","lo":-30,"hi":38},{"t":0.07,"s":"Uq","lo":-33,"hi":38},{"t":0.08,"s":"Uq","lo":-35,"hi":35},{"t":0.09,"s":"Uq","lo":-80,"hi":75},{"t":0.10,"s":"Uq","lo":-100,"hi":83},
{"t":0.11,"s":"Uq","lo":-100,"hi":70},{"t":0.12,"s":"Uq","lo":-75,"hi":45},{"t":0.13,"s":"Uq","lo":-50,"hi":90},{"t":0.14,"s":"Uq","lo":-71,"hi":112},{"t":0.15,"s":"Uq","lo":-60,"hi":85},{"t":0.16,"s":"Uq","lo":-45,"hi":64},{"t":0.17,"s":"Uq","lo":-35,"hi":39},{"t":0.18,"s":"Uq","lo":-35,"hi":33},{"t":0.19,"s":"Uq","lo":-35,"hi":30},{"t":0.20,"s":"Uq","lo":-45,"hi":45},
{"t":0.21,"s":"Uq","lo":-90,"hi":58},{"t":0.22,"s":"Uq","lo":-90,"hi":50},{"t":0.23,"s":"Uq","lo":-60,"hi":45},{"t":0.24,"s":"Uq","lo":-50,"hi":55},{"t":0.25,"s":"Uq","lo":-49,"hi":55},{"t":0.26,"s":"Uq","lo":-40,"hi":45},{"t":0.27,"s":"Uq","lo":-49,"hi":30},{"t":0.28,"s":"Uq","lo":-40,"hi":30},{"t":0.29,"s":"Uq","lo":-45,"hi":40},{"t":0.30,"s":"Uq","lo":-80,"hi":60},
{"t":0.31,"s":"Uq","lo":-115,"hi":89},{"t":0.32,"s":"Uq","lo":-113,"hi":80},{"t":0.33,"s":"Uq","lo":-90,"hi":60},{"t":0.34,"s":"Uq","lo":-60,"hi":55},{"t":0.35,"s":"Uq","lo":-50,"hi":58},{"t":0.36,"s":"Uq","lo":-42,"hi":60},{"t":0.37,"s":"Uq","lo":-35,"hi":50},{"t":0.38,"s":"Uq","lo":-35,"hi":48},{"t":0.39,"s":"Uq","lo":-45,"hi":50},{"t":0.40,"s":"Uq","lo":-70,"hi":50},
{"t":0.41,"s":"Uq","lo":-90,"hi":49},{"t":0.42,"s":"Uq","lo":-102,"hi":49},{"t":0.43,"s":"Uq","lo":-75,"hi":40},{"t":0.44,"s":"Uq","lo":-50,"hi":39},{"t":0.45,"s":"Uq","lo":-45,"hi":39},{"t":0.46,"s":"Uq","lo":-46,"hi":40},{"t":0.47,"s":"Uq","lo":-40,"hi":60},{"t":0.48,"s":"Uq","lo":-60,"hi":90},{"t":0.49,"s":"Uq","lo":-80,"hi":99},{"t":0.50,"s":"Uq","lo":-75,"hi":80},
{"t":0.51,"s":"Uq","lo":-70,"hi":70},{"t":0.52,"s":"Uq","lo":-85,"hi":55},{"t":0.53,"s":"Uq","lo":-96,"hi":50},{"t":0.54,"s":"Uq","lo":-77,"hi":46},{"t":0.55,"s":"Uq","lo":-55,"hi":40},{"t":0.56,"s":"Uq","lo":-45,"hi":55},{"t":0.57,"s":"Uq","lo":-42,"hi":68},{"t":0.58,"s":"Uq","lo":-40,"hi":70},{"t":0.59,"s":"Uq","lo":-39,"hi":90},{"t":0.60,"s":"Uq","lo":-40,"hi":105},
{"t":0.61,"s":"Uq","lo":-45,"hi":60},{"t":0.62,"s":"Uq","lo":-46,"hi":35},{"t":0.63,"s":"Uq","lo":-40,"hi":30},{"t":0.64,"s":"Uq","lo":-45,"hi":39},{"t":0.65,"s":"Uq","lo":-50,"hi":39},{"t":0.66,"s":"Uq","lo":-45,"hi":45},{"t":0.67,"s":"Uq","lo":-55,"hi":55},{"t":0.68,"s":"Uq","lo":-60,"hi":71},{"t":0.69,"s":"Uq","lo":-65,"hi":80},{"t":0.70,"s":"Uq","lo":-65,"hi":82},
{"t":0.71,"s":"Uq","lo":-60,"hi":108},{"t":0.72,"s":"Uq","lo":-50,"hi":70},{"t":0.73,"s":"Uq","lo":-45,"hi":40},{"t":0.74,"s":"Uq","lo":-50,"hi":35},{"t":0.75,"s":"Uq","lo":-65,"hi":30},{"t":0.76,"s":"Uq","lo":-77,"hi":30},{"t":0.77,"s":"Uq","lo":-70,"hi":35},{"t":0.78,"s":"Uq","lo":-55,"hi":35},{"t":0.79,"s":"Uq","lo":-60,"hi":38},{"t":0.80,"s":"Uq","lo":-65,"hi":60},
{"t":0.81,"s":"Uq","lo":-80,"hi":74},{"t":0.82,"s":"Uq","lo":-138,"hi":50},{"t":0.83,"s":"Uq","lo":-70,"hi":35},{"t":0.84,"s":"Uq","lo":-50,"hi":38},{"t":0.85,"s":"Uq","lo":-50,"hi":35},{"t":0.86,"s":"Uq","lo":-60,"hi":45},{"t":0.87,"s":"Uq","lo":-74,"hi":52},{"t":0.88,"s":"Uq","lo":-65,"hi":50},{"t":0.882,"s":"Uq","lo":-65,"hi":50},
{"t":0.015,"s":"Uq","lo":-38,"hi":45},{"t":0.025,"s":"Uq","lo":-44,"hi":60},{"t":0.035,"s":"Uq","lo":-44,"hi":58},{"t":0.045,"s":"Uq","lo":-36,"hi":32},{"t":0.055,"s":"Uq","lo":-28,"hi":28},{"t":0.065,"s":"Uq","lo":-30,"hi":36},{"t":0.075,"s":"Uq","lo":-32,"hi":34},{"t":0.085,"s":"Uq","lo":-60,"hi":55},{"t":0.095,"s":"Uq","lo":-90,"hi":78},{"t":0.105,"s":"Uq","lo":-96,"hi":76},
{"t":0.115,"s":"Uq","lo":-88,"hi":58},{"t":0.125,"s":"Uq","lo":-62,"hi":65},{"t":0.135,"s":"Uq","lo":-60,"hi":100},{"t":0.145,"s":"Uq","lo":-65,"hi":98},{"t":0.155,"s":"Uq","lo":-52,"hi":72},{"t":0.165,"s":"Uq","lo":-40,"hi":50},{"t":0.175,"s":"Uq","lo":-33,"hi":35},{"t":0.185,"s":"Uq","lo":-33,"hi":31},{"t":0.195,"s":"Uq","lo":-40,"hi":36},{"t":0.205,"s":"Uq","lo":-70,"hi":52},
{"t":0.215,"s":"Uq","lo":-86,"hi":54},{"t":0.225,"s":"Uq","lo":-75,"hi":46},{"t":0.235,"s":"Uq","lo":-55,"hi":50},{"t":0.245,"s":"Uq","lo":-48,"hi":52},{"t":0.255,"s":"Uq","lo":-45,"hi":50},{"t":0.265,"s":"Uq","lo":-44,"hi":38},{"t":0.275,"s":"Uq","lo":-44,"hi":28},{"t":0.285,"s":"Uq","lo":-42,"hi":34},{"t":0.295,"s":"Uq","lo":-62,"hi":50},{"t":0.305,"s":"Uq","lo":-100,"hi":78},
{"t":0.315,"s":"Uq","lo":-112,"hi":85},{"t":0.325,"s":"Uq","lo":-100,"hi":70},{"t":0.335,"s":"Uq","lo":-75,"hi":56},{"t":0.345,"s":"Uq","lo":-55,"hi":55},{"t":0.355,"s":"Uq","lo":-46,"hi":58},{"t":0.365,"s":"Uq","lo":-38,"hi":55},{"t":0.375,"s":"Uq","lo":-34,"hi":48},{"t":0.385,"s":"Uq","lo":-40,"hi":48},{"t":0.395,"s":"Uq","lo":-58,"hi":50},{"t":0.405,"s":"Uq","lo":-80,"hi":48},
{"t":0.415,"s":"Uq","lo":-96,"hi":48},{"t":0.425,"s":"Uq","lo":-90,"hi":44},{"t":0.435,"s":"Uq","lo":-62,"hi":39},{"t":0.445,"s":"Uq","lo":-47,"hi":37},{"t":0.455,"s":"Uq","lo":-44,"hi":38},{"t":0.465,"s":"Uq","lo":-42,"hi":50},{"t":0.475,"s":"Uq","lo":-50,"hi":75},{"t":0.485,"s":"Uq","lo":-70,"hi":95},{"t":0.495,"s":"Uq","lo":-78,"hi":90},{"t":0.505,"s":"Uq","lo":-72,"hi":75},
{"t":0.515,"s":"Uq","lo":-78,"hi":62},{"t":0.525,"s":"Uq","lo":-90,"hi":52},{"t":0.535,"s":"Uq","lo":-86,"hi":48},{"t":0.545,"s":"Uq","lo":-66,"hi":42},{"t":0.555,"s":"Uq","lo":-50,"hi":46},{"t":0.565,"s":"Uq","lo":-43,"hi":62},{"t":0.575,"s":"Uq","lo":-41,"hi":68},{"t":0.585,"s":"Uq","lo":-39,"hi":80},{"t":0.595,"s":"Uq","lo":-39,"hi":98},{"t":0.605,"s":"Uq","lo":-42,"hi":82},
{"t":0.615,"s":"Uq","lo":-45,"hi":46},{"t":0.625,"s":"Uq","lo":-43,"hi":32},{"t":0.635,"s":"Uq","lo":-42,"hi":34},{"t":0.645,"s":"Uq","lo":-47,"hi":38},{"t":0.655,"s":"Uq","lo":-47,"hi":42},{"t":0.665,"s":"Uq","lo":-50,"hi":50},{"t":0.675,"s":"Uq","lo":-58,"hi":64},{"t":0.685,"s":"Uq","lo":-62,"hi":76},{"t":0.695,"s":"Uq","lo":-65,"hi":80},{"t":0.705,"s":"Uq","lo":-62,"hi":95},
{"t":0.715,"s":"Uq","lo":-55,"hi":90},{"t":0.725,"s":"Uq","lo":-47,"hi":55},{"t":0.735,"s":"Uq","lo":-47,"hi":37},{"t":0.745,"s":"Uq","lo":-58,"hi":32},{"t":0.755,"s":"Uq","lo":-72,"hi":30},{"t":0.765,"s":"Uq","lo":-74,"hi":32},{"t":0.775,"s":"Uq","lo":-62,"hi":35},{"t":0.785,"s":"Uq","lo":-57,"hi":36},{"t":0.795,"s":"Uq","lo":-62,"hi":50},{"t":0.805,"s":"Uq","lo":-72,"hi":68},
{"t":0.815,"s":"Uq","lo":-85,"hi":62},{"t":0.825,"s":"Uq","lo":-75,"hi":42},{"t":0.835,"s":"Uq","lo":-60,"hi":36},{"t":0.845,"s":"Uq","lo":-50,"hi":36},{"t":0.855,"s":"Uq","lo":-55,"hi":40},{"t":0.865,"s":"Uq","lo":-68,"hi":48},{"t":0.875,"s":"Uq","lo":-70,"hi":51}
]
},
"spacing": 147.7,
"bounds": "flush",
"hconcat": [
{
  "width": 440, "height": 318,
  "data": {"name": "phase"},
  "title": {"text": "(a) Phase voltages from oscilloscope.", "orient": "bottom", "anchor": "middle", "dx": -19, "offset": 14},
  "resolve": {"axis": {"x": "independent", "y": "independent"}},
  "layer": [
    {"transform": [{"filter": "datum.s === 'Phase A'"}],
     "mark": {"type": "area", "interpolate": "step", "clip": true},
     "encoding": {
       "x": {"field": "t", "type": "quantitative", "scale": {"domain": [0.01, 0.882], "nice": false, "zero": false},
         "axis": {"orient": "bottom", "title": "Time (s)", "values": [0.05,0.1,0.15,0.2,0.25,0.3,0.35,0.4,0.45,0.5,0.55,0.6,0.65,0.7,0.75,0.8,0.85],
           "labelExpr": "abs(datum.value*5-round(datum.value*5))<0.001 ? format(datum.value,'.1f') : ''",
           "grid": true,
           "gridColor": {"condition": {"test": "abs(datum.value*5-round(datum.value*5))<0.001", "value": "#dedede"}, "value": "#bdbdbd"},
           "gridDash": {"condition": {"test": "abs(datum.value*5-round(datum.value*5))<0.001", "value": []}, "value": [1, 4]},
           "tickSize": -5,
           "tickOpacity": {"condition": {"test": "abs(datum.value*5-round(datum.value*5))<0.001", "value": 1}, "value": 0},
           "labelPadding": 17.6, "titlePadding": 6, "domain": true}},
       "y": {"field": "lo", "type": "quantitative", "scale": {"domain": [-150, 150], "nice": false, "zero": false},
         "axis": {"orient": "left", "title": "Voltage (V)", "values": [-150,-140,-130,-120,-110,-100,-90,-80,-70,-60,-50,-40,-30,-20,-10,0,10,20,30,40,50,60,70,80,90,100,110,120,130,140,150],
           "labelExpr": "datum.value % 50 === 0 ? '' + datum.value : ''",
           "grid": true,
           "gridColor": {"condition": {"test": "datum.value % 50 === 0", "value": "#dedede"}, "value": "#bdbdbd"},
           "gridDash": {"condition": {"test": "datum.value % 50 === 0", "value": []}, "value": [1, 4]},
           "tickSize": -5,
           "tickOpacity": {"condition": {"test": "datum.value % 50 === 0", "value": 1}, "value": 0},
           "labelPadding": 14.3, "titlePadding": 6.5, "domain": true}},
       "y2": {"field": "hi"},
       "color": {"field": "s", "type": "nominal", "scale": {"domain": ["Phase A", "Phase B", "Phase C"], "range": ["#0072BD", "#D95319", "#EDB120"]},
         "legend": {"orient": "none", "legendX": 202.7, "legendY": -22.4, "title": null,
           "symbolType": "M-0.728,0H7.94", "symbolSize": 324, "symbolStrokeWidth": 2.5, "labelOffset": 66,
           "encode": {"symbols": {"update": {"stroke": {"signal": "datum.value === 'Phase A' ? '#0072BD' : datum.value === 'Phase B' ? '#D95319' : '#EDB120'"}, "strokeOpacity": {"value": 1}}}}}}
     }},
    {"transform": [{"filter": "datum.s === 'Phase B'"}],
     "mark": {"type": "area", "interpolate": "step", "clip": true},
     "encoding": {
       "x": {"field": "t", "type": "quantitative", "scale": {"domain": [0.01, 0.882], "nice": false, "zero": false},
         "axis": {"orient": "top", "values": [0.2, 0.4, 0.6, 0.8], "labels": false, "grid": false, "tickSize": -5, "domain": true, "title": null}},
       "y": {"field": "lo", "type": "quantitative", "scale": {"domain": [-150, 150], "nice": false, "zero": false},
         "axis": {"orient": "right", "values": [-100, -50, 0, 50, 100], "labels": false, "grid": false, "tickSize": -5, "domain": true, "title": null}},
       "y2": {"field": "hi"},
       "color": {"field": "s", "type": "nominal", "scale": {"domain": ["Phase A", "Phase B", "Phase C"], "range": ["#0072BD", "#D95319", "#EDB120"]}}
     }},
    {"transform": [{"filter": "datum.s === 'Phase C'"}],
     "mark": {"type": "area", "interpolate": "step", "clip": true},
     "encoding": {
       "x": {"field": "t", "type": "quantitative", "scale": {"domain": [0.01, 0.882], "nice": false, "zero": false}, "axis": null},
       "y": {"field": "lo", "type": "quantitative", "scale": {"domain": [-150, 150], "nice": false, "zero": false}, "axis": null},
       "y2": {"field": "hi"},
       "color": {"field": "s", "type": "nominal", "scale": {"domain": ["Phase A", "Phase B", "Phase C"], "range": ["#0072BD", "#D95319", "#EDB120"]}}
     }}
  ]
},
{
  "width": 440, "height": 318,
  "data": {"name": "dq"},
  "title": {"text": "(b) Voltage after Clarke and Park transformation.", "orient": "bottom", "anchor": "middle", "dx": -17.6, "offset": 14},
  "resolve": {"axis": {"x": "independent", "y": "independent"}},
  "layer": [
    {"transform": [{"filter": "datum.s === 'Ud'"}],
     "mark": {"type": "area", "interpolate": "step", "clip": true},
     "encoding": {
       "x": {"field": "t", "type": "quantitative", "scale": {"domain": [0.01, 0.882], "nice": false, "zero": false},
         "axis": {"orient": "bottom", "title": "Time (s)", "values": [0.05,0.1,0.15,0.2,0.25,0.3,0.35,0.4,0.45,0.5,0.55,0.6,0.65,0.7,0.75,0.8,0.85],
           "labelExpr": "abs(datum.value*5-round(datum.value*5))<0.001 ? format(datum.value,'.1f') : ''",
           "grid": true,
           "gridColor": {"condition": {"test": "abs(datum.value*5-round(datum.value*5))<0.001", "value": "#dedede"}, "value": "#bdbdbd"},
           "gridDash": {"condition": {"test": "abs(datum.value*5-round(datum.value*5))<0.001", "value": []}, "value": [1, 4]},
           "tickSize": -5,
           "tickOpacity": {"condition": {"test": "abs(datum.value*5-round(datum.value*5))<0.001", "value": 1}, "value": 0},
           "labelPadding": 17.6, "titlePadding": 6, "domain": true}},
       "y": {"field": "lo", "type": "quantitative", "scale": {"domain": [-150, 150], "nice": false, "zero": false},
         "axis": {"orient": "left", "title": "Voltage (V)", "values": [-150,-140,-130,-120,-110,-100,-90,-80,-70,-60,-50,-40,-30,-20,-10,0,10,20,30,40,50,60,70,80,90,100,110,120,130,140,150],
           "labelExpr": "datum.value % 50 === 0 ? '' + datum.value : ''",
           "grid": true,
           "gridColor": {"condition": {"test": "datum.value % 50 === 0", "value": "#dedede"}, "value": "#bdbdbd"},
           "gridDash": {"condition": {"test": "datum.value % 50 === 0", "value": []}, "value": [1, 4]},
           "tickSize": -5,
           "tickOpacity": {"condition": {"test": "datum.value % 50 === 0", "value": 1}, "value": 0},
           "labelPadding": 14.3, "titlePadding": 6.5, "domain": true}},
       "y2": {"field": "hi"},
       "color": {"field": "s", "type": "nominal", "scale": {"domain": ["Ud", "Uq"], "range": ["#0072BD", "#D95319"]},
         "legend": {"orient": "none", "legendX": 314.3, "legendY": -16.4, "title": null,
           "symbolType": "M-0.728,0H8.16", "symbolSize": 324, "symbolStrokeWidth": 2.5, "labelOffset": 68,
           "encode": {"symbols": {"update": {"stroke": {"signal": "datum.value === 'Ud' ? '#0072BD' : '#D95319'"}, "strokeOpacity": {"value": 1}}}}}}
     }},
    {"transform": [{"filter": "datum.s === 'Uq'"}],
     "mark": {"type": "area", "interpolate": "step", "clip": true},
     "encoding": {
       "x": {"field": "t", "type": "quantitative", "scale": {"domain": [0.01, 0.882], "nice": false, "zero": false},
         "axis": {"orient": "top", "values": [0.2, 0.4, 0.6, 0.8], "labels": false, "grid": false, "tickSize": -5, "domain": true, "title": null}},
       "y": {"field": "lo", "type": "quantitative", "scale": {"domain": [-150, 150], "nice": false, "zero": false},
         "axis": {"orient": "right", "values": [-100, -50, 0, 50, 100], "labels": false, "grid": false, "tickSize": -5, "domain": true, "title": null}},
       "y2": {"field": "hi"},
       "color": {"field": "s", "type": "nominal", "scale": {"domain": ["Ud", "Uq"], "range": ["#0072BD", "#D95319"]}}
     }}
  ]
}
]
}
